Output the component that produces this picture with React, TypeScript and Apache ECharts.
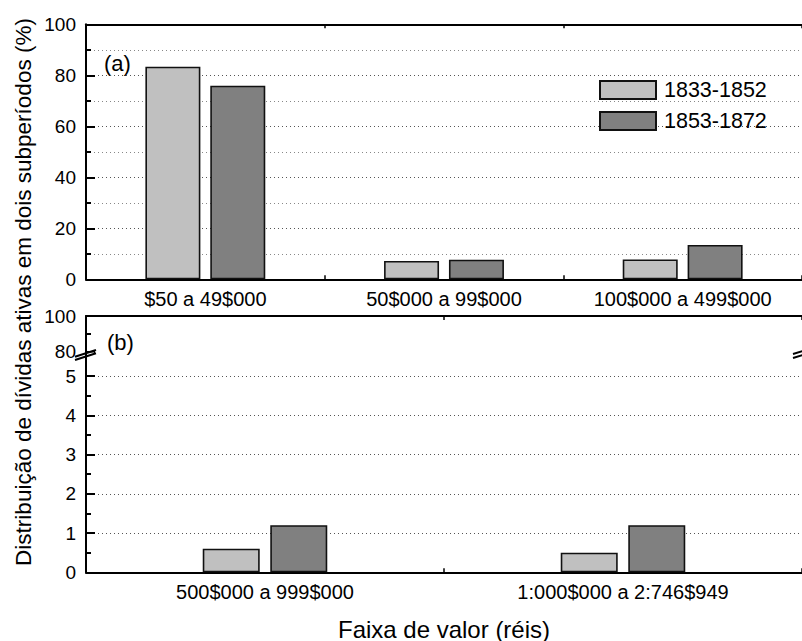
import React, { useEffect, useRef } from "react";
import * as echarts from "echarts";

const catsA = ["$50 a 49$000", "50$000 a 99$000", "100$000 a 499$000"];
const catsB = ["500$000 a 999$000", "1:000$000 a 2:746$949"];
const seriesNames = ["1833-1852", "1853-1872"];
const valsA1 = [83.4, 7.2, 7.8];
const valsA2 = [75.9, 7.7, 13.5];
const valsB1 = [0.6, 0.5];
const valsB2 = [1.2, 1.2];
const colors = ["#c0c0c0", "#808080"];

const FONT = "'Liberation Sans', Arial, sans-serif";

export default function App() {
  const ref = useRef<HTMLDivElement>(null);
  useEffect(() => {
    if (!ref.current) return;
    const chart = echarts.init(ref.current, undefined, { renderer: "svg" });
    const axisLine = { show: true, onZero: false, lineStyle: { color: "#000", width: 2 } };
    const gridDot = { show: true, lineStyle: { color: "#555", type: [1, 3], width: 1 } };
    const minorDot = { show: true, lineStyle: { color: "#888", type: [1, 3], width: 1 } };
    const yLabel = { fontSize: 19, color: "#000", fontFamily: FONT, margin: 10 };
    const xLabel = { fontSize: 20, color: "#000", fontFamily: FONT, margin: 10 };
    const L = 86;
    const W = 717;
    const barStyle = (i: number) => ({ color: colors[i], borderColor: "#111", borderWidth: 1.6 });
    const line = (x1: number, y1: number, x2: number, y2: number) => ({
      type: "line",
      shape: { x1, y1, x2, y2 },
      style: { stroke: "#000", lineWidth: 2 },
      z: 100,
    });
    chart.setOption({
      animation: false,
      textStyle: { fontFamily: FONT },
      grid: [
        { left: L, top: 24.3, width: W, height: 255 },
        { left: L, top: 316, width: W, height: 35.7 },
        { left: L, top: 376, width: W, height: 196.3 },
      ],
      legend: {
        data: seriesNames,
        orient: "vertical",
        left: 599,
        top: 79,
        padding: 0,
        itemWidth: 56,
        itemHeight: 18,
        itemGap: 9,
        icon: "rect",
        textStyle: { fontSize: 21.5, color: "#000", fontFamily: FONT, padding: [0, 0, 0, 3] },
      },
      xAxis: [
        {
          gridIndex: 0, type: "category", data: catsA, position: "bottom",
          axisLine, axisTick: { show: true, inside: true, length: 4, lineStyle: { width: 1.5 } },
          axisLabel: xLabel, splitLine: { show: false },
        },
        {
          gridIndex: 0, type: "category", data: catsA, position: "top",
          axisLine, axisTick: { show: true, inside: true, length: 4, lineStyle: { width: 1.5 } },
          axisLabel: { show: false }, splitLine: { show: false },
        },
        {
          gridIndex: 1, type: "category", data: catsB, position: "top",
          axisLine, axisTick: { show: true, inside: true, length: 4, lineStyle: { width: 1.5 } },
          axisLabel: { show: false }, splitLine: { show: false },
        },
        {
          gridIndex: 2, type: "category", data: catsB, position: "bottom",
          axisLine, axisTick: { show: true, inside: true, length: 4, lineStyle: { width: 1.5 } },
          axisLabel: xLabel, splitLine: { show: false },
        },
      ],
      yAxis: [
        {
          gridIndex: 0, type: "value", min: 0, max: 100, interval: 20,
          axisLine, axisLabel: yLabel,
          axisTick: { show: true, inside: true, length: 9, lineStyle: { width: 2, color: "#000" } },
          minorTick: { show: true, splitNumber: 2, length: 5, lineStyle: { width: 2, color: "#000" } },
          splitLine: gridDot, minorSplitLine: minorDot,
        },
        {
          gridIndex: 1, type: "value", min: 80, max: 100, interval: 20,
          axisLine, axisLabel: yLabel,
          axisTick: { show: true, inside: true, length: 9, lineStyle: { width: 2, color: "#000" } },
          minorTick: { show: true, splitNumber: 2, length: 5, lineStyle: { width: 2, color: "#000" } },
          splitLine: { show: false },
        },
        {
          gridIndex: 2, type: "value", min: 0, max: 5, interval: 1,
          axisLine, axisLabel: yLabel,
          axisTick: { show: true, inside: true, length: 9, lineStyle: { width: 2, color: "#000" } },
          minorTick: { show: true, splitNumber: 2, length: 5, lineStyle: { width: 2, color: "#000" } },
          splitLine: gridDot,
        },
      ],
      series: [
        { name: seriesNames[0], type: "bar", xAxisIndex: 0, yAxisIndex: 0, data: valsA1, barWidth: 55, barGap: "18%", itemStyle: barStyle(0) },
        { name: seriesNames[1], type: "bar", xAxisIndex: 0, yAxisIndex: 0, data: valsA2, barWidth: 55, barGap: "18%", itemStyle: barStyle(1) },
        { name: seriesNames[0], type: "bar", xAxisIndex: 3, yAxisIndex: 2, data: valsB1, barWidth: 57, barGap: "18.5%", itemStyle: barStyle(0) },
        { name: seriesNames[1], type: "bar", xAxisIndex: 3, yAxisIndex: 2, data: valsB2, barWidth: 57, barGap: "18.5%", itemStyle: barStyle(1) },
      ],
      graphic: [
        { type: "text", left: 104, top: 52, style: { text: "(a)", fontSize: 22, fill: "#000", fontFamily: FONT } },
        { type: "text", left: 107, top: 331, style: { text: "(b)", fontSize: 22, fill: "#000", fontFamily: FONT } },
        {
          type: "text", x: 23, y: 292, rotation: Math.PI / 2,
          style: { text: "Distribuição de dívidas ativas em dois subperíodos (%)", fontSize: 22.5, fill: "#000", fontFamily: FONT, align: "center", verticalAlign: "middle" },
        },
        {
          type: "text", x: 444, y: 629,
          style: { text: "Faixa de valor (réis)", fontSize: 24, fill: "#000", fontFamily: FONT, align: "center", verticalAlign: "middle" },
        },
        line(86, 351.7, 86, 377),
        { type: "rect", shape: { x: 80, y: 352.5, width: 14, height: 3 }, style: { fill: "#fff" }, z: 99 },
        line(75, 356.7, 96, 350),
        line(75, 360, 96, 353.3),
        line(793, 354, 803, 351),
        line(793, 358, 803, 355),
      ],
    });
    return () => chart.dispose();
  }, []);
  return <div ref={ref} style={{ position: "absolute", left: 0, top: 0, width: 802, height: 641 }} />;
}
